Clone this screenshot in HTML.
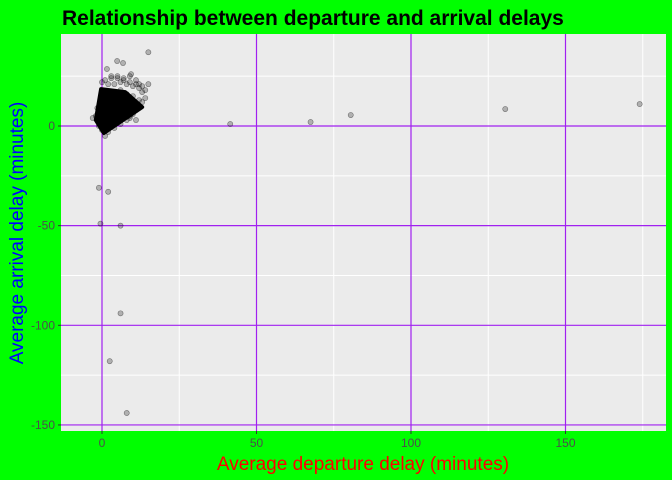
<!DOCTYPE html>
<html><head><meta charset="utf-8"><style>
body{margin:0;background:#00ff00;}
svg{display:block;font-family:"Liberation Sans",sans-serif;}
</style></head><body>
<svg id="c" width="672" height="480">
<rect x="0" y="0" width="672" height="480" fill="#00ff00"/>
<text x="62" y="25" font-size="21" font-weight="bold" fill="#000">Relationship between departure and arrival delays</text>
<text transform="translate(23,233) rotate(-90)" text-anchor="middle" font-size="19" fill="#0000ff">Average arrival delay (minutes)</text>
<text x="363" y="470" text-anchor="middle" font-size="19" fill="#ff0000">Average departure delay (minutes)</text>
<g id="panel"></g>
</svg>
<script>
const xTicks=[0,50,100,150];
const yTicks=[0,-50,-100,-150];
const xMinor=[25,75,125,175];
const yMinor=[25,-25,-75,-125];
const depDelay=[15,41.5,67.5,80.5,130.5,174,-1,2,-0.5,6,
6,2.5,8,4.9,6.8,1.6,9.4,-3,-2,-1,
0,1,3,5,7,9,11,13,14,12,
10,8,6,4,2,14,13,12,11,10,
9,8,6,4,2,1,0,-1,-1.5,0.5,
3,5,7,9,11,12,13,15,6,4,
8,10,2,1,3,5,7,9,11,12];
const arrDelay=[37,1,2,5.5,8.5,11,-31,-33,-49,-50,
-94,-118,-144,32.6,31.6,28.6,26,4,5,7,
22,23,24,24,23,22,21,20,18,19,
20,21,22,21,21,14,12,10,8,6,
5,3,1,-1,-3,-5,-2,0,9,14,
25,25,24,25,23,21,17,21,18,17,
16,15,14,12,10,8,6,4,3,13];
const coreDep=[0.6,-2,-0.3,7.5,13];
const coreArr=[-3.5,3,18.5,17,9.5];
const X=v=>102+(v)*3.09, Y=v=>126-v*1.993;
const ns="http://www.w3.org/2000/svg";
const g=document.getElementById('panel');
function mk(t,a){const e=document.createElementNS(ns,t);for(const k in a)e.setAttribute(k,a[k]);g.appendChild(e);return e;}
let bg=mk('rect',{x:61,y:34,width:605,height:397,fill:'#ebebeb'});


xMinor.forEach(v=>{let l=mk('line',{x1:X(v),x2:X(v),y1:34,y2:431,stroke:'#fff','stroke-width':1});

});
yMinor.forEach(v=>{let l=mk('line',{x1:61,x2:666,y1:Y(v),y2:Y(v),stroke:'#fff','stroke-width':1});

});
xTicks.forEach(v=>{let l=mk('line',{x1:X(v),x2:X(v),y1:34,y2:431,stroke:'#a020f0','stroke-width':1.2});


let t=mk('line',{x1:X(v),x2:X(v),y1:431,y2:434,stroke:'#333'});


let s=mk('text',{x:X(v),y:447,'text-anchor':'middle','font-size':12,fill:'#4d4d4d'});s.textContent=v;

});
yTicks.forEach(v=>{let l=mk('line',{x1:61,x2:666,y1:Y(v),y2:Y(v),stroke:'#a020f0','stroke-width':1.2});


let t=mk('line',{x1:58,x2:61,y1:Y(v),y2:Y(v),stroke:'#333'});


let s=mk('text',{x:55,y:Y(v)+4,'text-anchor':'end','font-size':12,fill:'#4d4d4d'});s.textContent=v;

});
let d=coreDep.map((v,i)=>(i?'L':'M')+X(v)+' '+Y(coreArr[i])).join(' ')+' Z';
let core=mk('path',{d:d,fill:'#000',stroke:'#000','stroke-width':4,'stroke-linejoin':'round'});


depDelay.forEach((v,i)=>{let c=mk('circle',{cx:X(v),cy:Y(arrDelay[i]),r:2.6,fill:'rgba(0,0,0,0.25)',stroke:'rgba(0,0,0,0.45)','stroke-width':0.6});

});
</script>
</body></html>
